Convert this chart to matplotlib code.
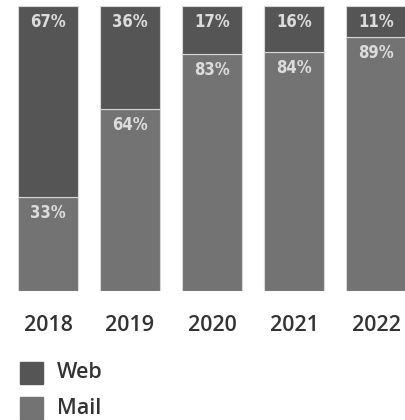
import matplotlib.pyplot as plt
import numpy as np
from matplotlib.patches import Rectangle

years = ["2018", "2019", "2020", "2021", "2022"]
web = [67, 36, 17, 16, 11]
mail = [33, 64, 83, 84, 89]

web_color = "#555555"
mail_color = "#737373"

fig = plt.figure(figsize=(4.05, 4.2), dpi=100)
# axes in pixel terms: bars from y=6 to y=291, first bar centre x=48, step 82
ax = fig.add_axes([0, 129 / 420, 1, 285 / 420])
x = np.arange(len(years))
ax.bar(x, mail, width=0.73, color=mail_color, edgecolor="#d8d8d8", linewidth=0.8)
ax.bar(x, web, bottom=mail, width=0.73, color=web_color, edgecolor="#d8d8d8", linewidth=0.8)
ax.set_xlim(-48 / 82, (405 - 48) / 82)
ax.set_ylim(0, 100)
ax.axis("off")

lab_font = dict(family="DejaVu Sans", fontstretch="condensed", fontweight="bold",
                fontsize=12, color="#dcdcdc", ha="center", va="center")
for i in range(len(years)):
    ax.annotate(f"{web[i]}%", (x[i], 100), xytext=(0, -11.5), textcoords="offset points", **lab_font)
    ax.annotate(f"{mail[i]}%", (x[i], mail[i]), xytext=(0, -11.5), textcoords="offset points", **lab_font)
    ax.annotate(years[i], (x[i], 0), xytext=(0, -24.5), textcoords="offset points",
                ha="center", va="center", fontsize=15.5, color="#333333",
                family="Open Sans", fontweight="semibold", annotation_clip=False)

# legend
items = [("Web", web_color, 373), ("Mail", mail_color, 408)]
for name, col, yc in items:
    fig.add_artist(Rectangle((20 / 405, (420 - yc - 11) / 420), 23 / 405, 22 / 420,
                             transform=fig.transFigure, color=col))
    fig.text(57 / 405, (420 - yc) / 420, name, fontsize=15.5, color="#333333",
             ha="left", va="center", family="Open Sans", fontweight="semibold")

fig.savefig("out.png", dpi=100)
